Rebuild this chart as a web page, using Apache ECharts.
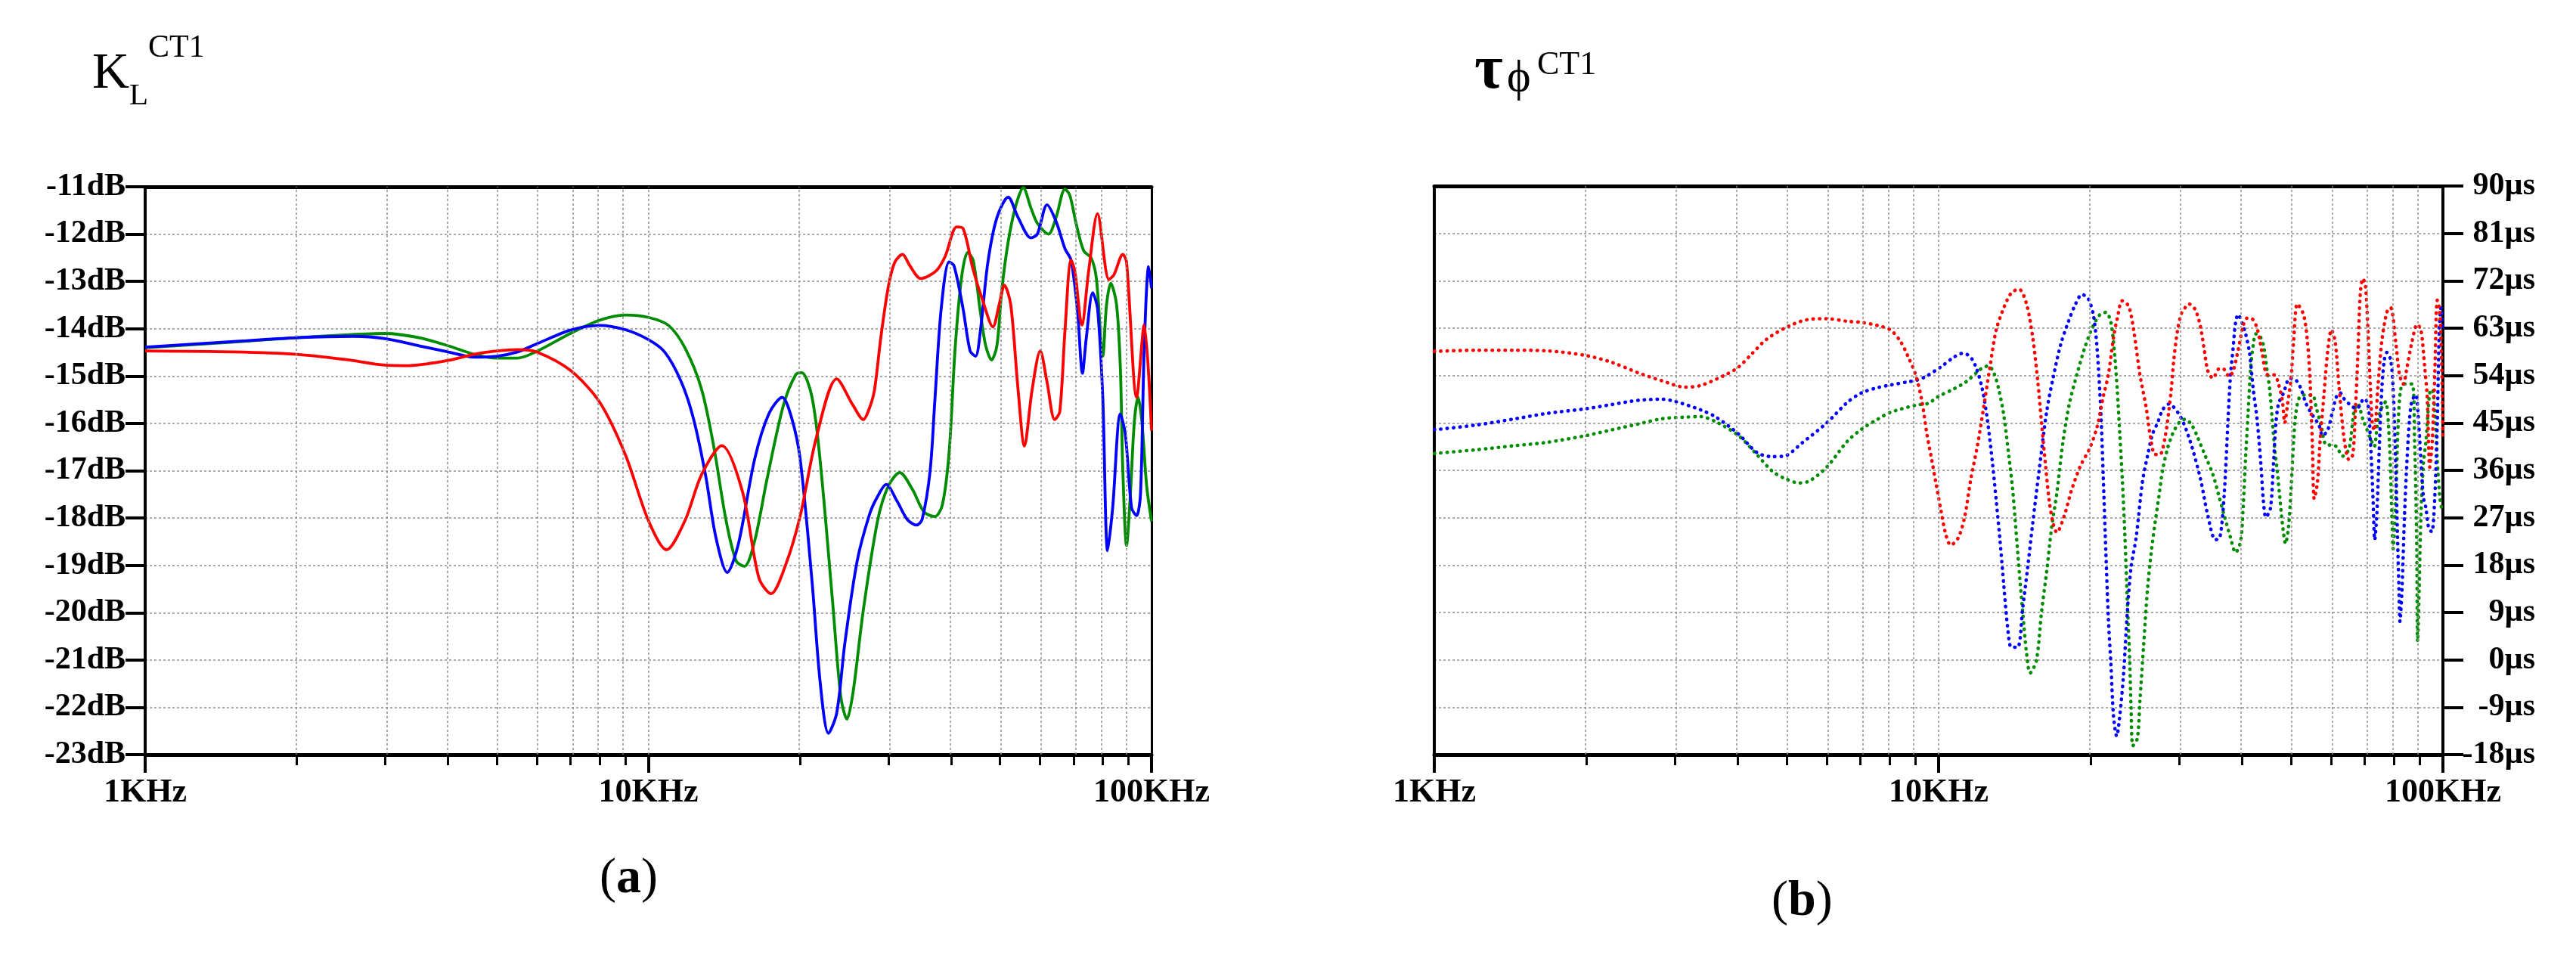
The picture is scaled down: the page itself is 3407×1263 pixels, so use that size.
<!DOCTYPE html>
<html>
<head>
<meta charset="utf-8">
<title>KL CT1 / tau phi CT1</title>
<script src="https://cdn.jsdelivr.net/npm/echarts@6/dist/echarts.min.js"></script>
<style>
  html, body { margin: 0; padding: 0; background: #fff; }
  #chart { width: 3407px; height: 1263px; }
</style>
</head>
<body>
<div id="chart"></div>
<script>
// frequency in kHz
var klGreen = [[1, -14.4], [1.5, -14.28], [2, -14.19], [2.5, -14.13], [3, -14.1], [3.5, -14.19], [4, -14.36], [4.5, -14.54], [5, -14.62], [5.5, -14.62], [6, -14.48], [7, -14.1], [8, -13.82], [9, -13.71], [10, -13.76], [10.97, -13.93], [11.83, -14.41], [12.75, -15.27], [13.49, -16.49], [14.27, -18.05], [14.95, -18.91], [15.52, -19.02], [16.27, -18.48], [17.21, -17.18], [18.55, -15.62], [19.63, -14.97], [20.18, -14.93], [21.15, -15.45], [21.97, -16.83], [23.24, -19.78], [24.12, -21.77], [24.81, -22.25], [25.52, -21.68], [26.74, -19.95], [28.56, -18.05], [30, -17.32], [31.6, -17.04], [33.5, -17.4], [35.3, -17.87], [37.1, -17.97], [38.4, -17.72], [39.6, -16.62], [40.7, -14.43], [41.9, -12.94], [43.1, -12.39], [44.2, -12.55], [45.7, -13.65], [46.8, -14.35], [48.1, -14.66], [49.3, -14.35], [50.4, -13.18], [51.9, -12.16], [53.7, -11.41], [55.6, -11.02], [57.6, -11.45], [59.3, -11.77], [62.4, -12.0], [64.6, -11.65], [67.3, -11.05], [68.8, -11.18], [70.8, -11.77], [73.3, -12.35], [75.9, -12.51], [77.7, -12.94], [80, -14.58], [81.4, -13.49], [83, -13.04], [85.2, -13.49], [86.7, -14.82], [87.7, -17.01], [89.2, -18.58], [90.8, -17.48], [92.4, -15.99], [94, -15.45], [95.6, -15.92], [97.8, -17.32], [100, -18.07]];

var klBlue = [[1, -14.39], [1.5, -14.27], [2, -14.19], [2.6, -14.16], [3, -14.21], [3.5, -14.36], [4, -14.49], [4.5, -14.6], [5, -14.58], [5.5, -14.49], [6, -14.32], [7, -14.03], [8, -13.93], [9, -14.02], [10, -14.23], [10.77, -14.49], [11.6, -15.1], [12.28, -15.88], [12.99, -17.09], [13.61, -18.39], [14.35, -19.15], [15.09, -18.56], [16.27, -16.75], [17.37, -15.79], [18.45, -15.45], [19.26, -15.88], [20.03, -16.75], [21.15, -19.34], [21.97, -21.51], [22.8, -22.55], [23.68, -22.12], [24.58, -20.64], [26, -18.91], [27.5, -17.93], [28.5, -17.56], [29.7, -17.29], [31.2, -17.64], [32.7, -18.03], [34.1, -18.15], [35, -18.03], [36.3, -17.01], [37.1, -15.52], [38.2, -13.57], [39.6, -12.59], [40.5, -12.67], [42.2, -13.57], [43.6, -14.47], [44.7, -14.58], [45.7, -14.04], [47.3, -12.59], [49.3, -11.65], [51.9, -11.22], [54.3, -11.65], [57.6, -12.08], [59.3, -12.0], [62, -11.38], [64.6, -11.73], [67.3, -12.31], [69.2, -12.55], [71.3, -13.65], [72.9, -14.94], [74.2, -14.19], [76.4, -13.24], [78.1, -13.57], [80, -15.45], [81.8, -18.69], [83.7, -17.79], [86.7, -15.8], [88.7, -16.23], [91.3, -17.79], [93.4, -17.95], [95.1, -17.48], [96.7, -14.43], [98.7, -12.69], [100, -13.14]];

var klRed = [[1, -14.47], [1.5, -14.49], [2, -14.54], [2.5, -14.65], [3, -14.77], [3.3, -14.78], [4, -14.67], [4.5, -14.54], [5, -14.47], [5.5, -14.44], [6, -14.49], [7, -14.88], [8, -15.55], [9, -16.66], [10, -18.05], [10.87, -18.67], [11.83, -18.05], [12.75, -17.09], [14, -16.47], [15.38, -17.44], [16.58, -19.26], [17.53, -19.6], [18.73, -19.0], [20.03, -17.96], [21.56, -16.31], [23.68, -15.06], [25.52, -15.62], [26.74, -15.92], [27.5, -15.68], [28.15, -15.29], [28.97, -14.19], [30, -13.1], [30.9, -12.59], [32, -12.43], [33.1, -12.67], [34.8, -12.94], [37.3, -12.78], [38.9, -12.47], [41, -11.85], [42.2, -11.88], [44.2, -12.75], [46.2, -13.41], [48.4, -13.96], [49.8, -13.49], [51, -13.08], [52.5, -13.49], [54.3, -15.29], [55.9, -16.48], [57.9, -15.29], [60.1, -14.47], [62, -15.13], [64.2, -15.92], [65.7, -15.76], [67.3, -14.04], [69.2, -12.55], [70.4, -12.78], [72.7, -13.92], [75, -12.78], [78.1, -11.57], [82.3, -12.96], [84.2, -12.86], [87.7, -12.43], [89.2, -12.59], [93.4, -15.45], [96.7, -13.92], [100, -16.15]];

var tauRed = [[1, 58.6], [1.21, 58.8], [1.45, 58.8], [1.67, 58.7], [2, 57.8], [2.25, 56.5], [2.54, 54.5], [2.83, 53.0], [3.14, 51.8], [3.37, 52.1], [3.79, 54.2], [4.01, 55.6], [4.26, 58.1], [4.56, 60.9], [5, 63.2], [5.48, 64.6], [6, 64.8], [6.59, 64.3], [7.03, 64.1], [7.57, 63.5], [8.02, 62.7], [8.4, 60.5], [8.69, 57.7], [9, 54.2], [9.26, 49.3], [9.48, 42.9], [9.69, 38.0], [9.87, 33.8], [10.09, 28.8], [10.33, 23.9], [10.57, 21.8], [10.94, 23.2], [11.26, 27.1], [11.59, 34.5], [11.93, 40.5], [12.28, 47.9], [12.64, 55.6], [13.01, 62.7], [13.47, 66.9], [13.94, 69.7], [14.43, 70.4], [14.94, 67.6], [15.37, 61.2], [15.73, 52.8], [16, 45.0], [16.28, 37.3], [16.57, 30.2], [16.86, 26.0], [17.15, 24.2], [17.75, 27.4], [18.37, 32.4], [19.12, 36.9], [19.92, 40.1], [20.62, 44.3], [21.21, 50.0], [21.71, 54.2], [22.22, 61.2], [22.6, 64.8], [23.13, 68.2], [23.81, 67.2], [24.36, 62.7], [25.07, 54.2], [25.8, 47.9], [26.25, 42.9], [26.86, 39.0], [27.47, 39.0], [28.11, 42.2], [28.6, 47.2], [28.93, 51.4], [29.27, 57.0], [29.78, 62.7], [30.3, 65.8], [30.82, 66.9], [31.36, 67.6], [32.28, 66.5], [33.03, 63.4], [33.61, 59.1], [34.19, 54.9], [34.99, 53.5], [36.01, 55.3], [36.64, 55.3], [37.7, 53.8], [38.36, 54.8], [39.25, 58.8], [40.16, 63.4], [40.86, 64.9], [41.82, 64.8], [42.8, 63.0], [43.79, 58.4], [44.82, 54.2], [46.39, 54.1], [47.2, 52.4], [48.03, 49.3], [48.58, 45.0], [49.14, 48.2], [49.99, 53.5], [50.57, 60.5], [51.45, 67.6], [52.95, 65.5], [53.87, 60.5], [54.49, 53.5], [55.12, 40.1], [55.57, 30.6], [56.4, 33.8], [57.06, 41.5], [58.05, 50.0], [59.06, 58.4], [60.09, 62.7], [61.13, 60.5], [62.2, 52.1], [63.65, 42.2], [65.14, 38.0], [66.27, 39.0], [67.04, 47.2], [67.81, 57.7], [68.59, 69.7], [69.39, 72.4], [70.19, 71.1], [71.01, 62.7], [71.83, 51.4], [72.41, 45.0], [73.08, 43.6], [74.36, 52.1], [75.65, 60.5], [77.41, 66.0], [78.76, 66.9], [80.59, 60.5], [82, 54.2], [83.43, 52.4], [84.88, 55.6], [86.86, 60.5], [88.89, 63.7], [90.44, 62.7], [92.01, 55.6], [93.07, 50.0], [94.15, 36.6], [95.24, 41.5], [96.34, 54.2], [97.45, 68.3], [98.58, 66.2], [99.72, 51.4], [100, 42.0]];

var tauBlue = [[1, 43.7], [1.21, 44.6], [1.45, 45.8], [1.67, 46.8], [2, 47.7], [2.25, 48.5], [2.54, 49.3], [2.83, 49.5], [3, 49.1], [3.37, 47.5], [3.62, 46.1], [4.01, 42.9], [4.36, 39.4], [4.67, 38.6], [4.94, 38.7], [5.36, 41.2], [6, 45.0], [6.59, 48.9], [7.03, 50.7], [7.57, 51.7], [8.02, 52.2], [8.69, 52.8], [9.03, 53.1], [9.42, 53.8], [10.09, 55.6], [10.69, 57.4], [11.13, 58.2], [11.52, 57.7], [11.86, 55.6], [12.21, 51.4], [12.49, 45.7], [12.79, 37.3], [13.01, 30.2], [13.24, 22.5], [13.47, 14.0], [13.7, 6.3], [13.94, 2.4], [14.35, 2.4], [14.68, 9.8], [15.02, 17.6], [15.37, 26.0], [15.82, 35.9], [16.38, 47.2], [16.86, 53.5], [17.45, 59.8], [18.06, 64.1], [18.69, 67.6], [19.24, 69.4], [19.8, 68.6], [20.27, 65.5], [20.62, 59.1], [20.97, 47.2], [21.21, 34.5], [21.46, 20.4], [21.71, 7.7], [21.96, -0.8], [22.22, -10.6], [22.55, -14.5], [22.87, -10.6], [23.26, -2.9], [23.67, 9.1], [24.08, 17.6], [24.64, 23.2], [25.36, 33.8], [25.95, 38.7], [26.56, 42.9], [27.17, 45.0], [27.81, 47.5], [28.6, 48.6], [30.12, 46.3], [31.54, 41.5], [33.03, 34.5], [34.19, 27.4], [35.39, 22.8], [36.13, 23.3], [36.85, 31.6], [37.49, 45.7], [37.92, 54.2], [38.36, 59.1], [38.8, 64.1], [39.25, 65.6], [39.93, 64.1], [40.63, 61.9], [41.34, 58.4], [42.06, 51.4], [42.8, 45.7], [43.54, 37.3], [44.05, 30.2], [44.56, 27.1], [45.5, 28.8], [46.13, 37.3], [46.66, 45.0], [47.2, 48.6], [48.3, 50.7], [49.71, 53.5], [51.15, 53.1], [52.34, 51.4], [53.56, 48.6], [55.44, 46.1], [56.73, 44.7], [57.72, 42.6], [59.06, 43.6], [60.43, 47.2], [61.49, 50.0], [62.56, 50.7], [63.65, 49.6], [65.89, 48.2], [67.42, 47.7], [69.79, 49.6], [71.01, 48.6], [71.83, 41.5], [72.66, 30.9], [73.25, 22.8], [73.93, 27.4], [74.78, 40.1], [75.65, 51.4], [76.53, 57.0], [77.41, 58.4], [78.76, 57.0], [79.67, 51.4], [80.59, 37.3], [81.25, 23.9], [81.81, 13.3], [82.19, 7.3], [82.95, 13.3], [83.91, 27.4], [84.88, 38.0], [85.87, 45.7], [86.86, 49.3], [88.38, 50.3], [89.41, 45.7], [90.44, 38.0], [91.48, 30.9], [92.54, 28.8], [93.61, 25.3], [95.02, 24.3], [96.34, 30.9], [97.45, 45.0], [98.35, 62.7], [99.15, 66.9], [100, 63.0]];

var tauGreen = [[1, 39.2], [1.21, 39.9], [1.45, 40.7], [1.67, 41.3], [2, 42.6], [2.25, 43.7], [2.54, 44.8], [2.83, 45.8], [3.14, 46.1], [3.37, 46.2], [3.62, 45.2], [4.01, 42.6], [4.36, 39.0], [4.67, 35.9], [4.94, 34.5], [5.3, 33.6], [5.55, 34.0], [6, 36.6], [6.59, 41.5], [7.03, 43.8], [7.57, 45.7], [8.02, 47.0], [9.03, 48.4], [9.53, 48.7], [9.98, 50.0], [10.69, 51.4], [11.33, 52.8], [12, 54.9], [12.28, 55.6], [12.57, 55.8], [12.86, 54.6], [13.16, 51.4], [13.47, 46.4], [13.78, 38.7], [14.02, 32.4], [14.18, 26.7], [14.35, 20.4], [14.51, 14.7], [14.68, 9.1], [14.94, 1.3], [15.19, -2.5], [15.63, -0.1], [16, 9.1], [16.38, 16.8], [16.76, 25.3], [17.15, 31.6], [17.65, 41.5], [18.16, 48.6], [18.8, 54.2], [19.46, 59.1], [20.15, 63.0], [20.85, 65.5], [21.46, 66.0], [21.96, 64.1], [22.35, 57.7], [22.6, 51.4], [22.87, 42.9], [23.13, 34.5], [23.4, 23.9], [23.67, 11.2], [23.94, -0.8], [24.08, -9.2], [24.28, -16.3], [24.78, -14.9], [25.07, -7.8], [25.5, 2.8], [25.95, 13.3], [26.4, 20.4], [26.86, 26.0], [27.33, 30.9], [27.79, 35.9], [28.43, 40.1], [29.1, 42.9], [29.95, 45.0], [30.82, 45.7], [31.72, 44.7], [32.65, 42.2], [33.8, 38.7], [34.99, 35.2], [36.01, 30.9], [36.85, 27.4], [37.92, 23.2], [38.8, 20.4], [39.7, 22.5], [40.16, 28.8], [40.63, 38.7], [41.1, 47.2], [41.58, 55.6], [42.06, 59.8], [42.55, 61.9], [43.29, 61.6], [44.05, 59.8], [44.82, 54.9], [45.34, 51.4], [45.86, 45.7], [46.39, 40.1], [46.93, 35.9], [47.48, 30.9], [48.03, 26.0], [48.75, 22.1], [49.42, 25.3], [49.99, 32.4], [50.57, 41.5], [51.15, 47.2], [52.04, 50.0], [53.56, 50.3], [55.12, 50.3], [56.08, 47.9], [57.39, 44.3], [58.72, 40.8], [60.09, 40.8], [61.49, 40.5], [63.28, 38.7], [65.14, 40.1], [66.65, 47.2], [67.81, 48.6], [69.39, 45.7], [72.24, 41.5], [73.08, 40.5], [74.36, 45.7], [75.65, 47.9], [76.97, 49.0], [78.31, 41.5], [79.21, 27.4], [79.67, 21.1], [80.59, 30.2], [81.53, 45.0], [82.48, 51.4], [83.91, 52.4], [86.86, 52.4], [87.87, 41.5], [88.68, 23.9], [89.1, 3.5], [89.71, 13.3], [90.44, 27.4], [91.48, 37.3], [92.54, 41.5], [94.15, 50.7], [95.24, 51.4], [96.34, 47.2], [97.45, 38.0], [98.58, 30.9], [99.72, 28.1]];

// axis settings
var gridFreqs = [2, 3, 4, 5, 6, 7, 8, 9, 10, 20, 30, 40, 50, 60, 70, 80, 90];
var minorFreqs = [2, 3, 4, 5, 6, 7, 8, 9, 20, 30, 40, 50, 60, 70, 80, 90];
var freqLabels = ['1KHz', '10KHz', '100KHz'];

var FONT = '"Liberation Serif", "Times New Roman", serif';
var RED = '#ff0000', GREEN = '#008c00', BLUE = '#0000ff';
var GRID_LINE = { color: '#8f8f8f', type: [3, 3], width: 1.5 };

function toLog(arr) {
	return arr.map(function (p) { return [Math.log10(p[0]), p[1]]; });
}

function mainX(g) {
	return {
		type: 'value', gridIndex: g, min: 0, max: 2, interval: 1, position: 'bottom',
		axisLine: { onZero: false, lineStyle: { color: '#000', width: 5 } },
		axisTick: { length: 24, lineStyle: { color: '#000', width: 4 } },
		axisLabel: {
			margin: 29, color: '#000', fontFamily: FONT, fontWeight: 'bold', fontSize: 44,
			formatter: function (v) { return freqLabels[Math.round(v)]; }
		},
		splitLine: { show: false }
	};
}
function minorX(g) {
	return {
		type: 'value', gridIndex: g, min: 0, max: 2, position: 'bottom',
		axisLine: { show: false, onZero: false },
		axisLabel: { show: false },
		axisTick: { show: true, length: 14, customValues: minorFreqs.map(function (f) { return Math.log10(f); }),
			lineStyle: { color: '#000', width: 3 } },
		splitLine: { show: false }
	};
}
function topX(g) {
	return {
		type: 'value', gridIndex: g, min: 0, max: 2, position: 'top',
		axisLine: { onZero: false, lineStyle: { color: '#000', width: 5 } },
		axisTick: { show: false }, axisLabel: { show: false }, splitLine: { show: false }
	};
}
function borderY(g, pos, lo, hi, w) {
	return {
		type: 'value', gridIndex: g, min: lo, max: hi, position: pos,
		axisLine: { onZero: false, lineStyle: { color: '#000', width: w } },
		axisTick: { show: false }, axisLabel: { show: false }, splitLine: { show: false }
	};
}

function gridSeries(xi, yi) {
	return {
		type: 'line', xAxisIndex: xi, yAxisIndex: yi, data: [], silent: true,
		markLine: {
			silent: true, animation: false, symbol: ['none', 'none'],
			label: { show: false }, lineStyle: GRID_LINE,
			emphasis: { disabled: true },
			data: gridFreqs.map(function (f) { return { xAxis: Math.log10(f) }; })
		}
	};
}
function solid(arr, color) {
	return {
		type: 'line', xAxisIndex: 0, yAxisIndex: 0, data: toLog(arr), showSymbol: false,
		smooth: 0.3, silent: true, itemStyle: { color: color },
		lineStyle: { color: color, width: 3.8 }
	};
}
function dotted(arr, color) {
	return {
		type: 'line', xAxisIndex: 3, yAxisIndex: 2, data: toLog(arr), showSymbol: false,
		smooth: 0.3, silent: true, itemStyle: { color: color },
		lineStyle: { color: color, width: 4.6, type: [0.5, 8], cap: 'round' }
	};
}

function txt(text, left, top, size, extra, weight) {
	var t = { text: text, left: left, top: top, padding: 0,
		textStyle: { fontFamily: FONT, fontSize: size, fontWeight: weight || 'normal', color: '#000' } };
	if (extra) { t.textStyle.rich = extra; }
	return t;
}

var capRich = {
	p: { fontFamily: FONT, fontSize: 66, color: '#000' },
	b: { fontFamily: FONT, fontSize: 66, fontWeight: 'bold', color: '#000' }
};

var option = {
	animation: false,
	backgroundColor: '#fff',
	title: [
		txt('K', 122, 64, 68),
		txt('L', 171, 107, 41),
		txt('CT1', 196, 43, 42),
		txt('τ', 1950, 54, 82, null, 'bold'),
		txt('ϕ', 1993, 74, 60),
		txt('CT1', 2033, 64, 44),
		txt('{p|(}{b|a}{p|)}', 793, 1130, 66, capRich),
		txt('{p|(}{b|b}{p|)}', 2343, 1160, 66, capRich)
	],
	grid: [
		{ left: 192, top: 247, width: 1331, height: 751 },
		{ left: 1897, top: 246, width: 1334, height: 752 }
	],
	xAxis: [mainX(0), minorX(0), topX(0), mainX(1), minorX(1), topX(1)],
	yAxis: [
		{
			type: 'value', gridIndex: 0, min: -23, max: -11, interval: 1, position: 'left',
			axisLine: { onZero: false, lineStyle: { color: '#000', width: 4 } },
			axisTick: { length: 26, lineStyle: { color: '#000', width: 4 } },
			axisLabel: { margin: 26, color: '#000', fontFamily: FONT, fontWeight: 'bold', fontSize: 42,
				formatter: function (v) { return v + 'dB'; } },
			splitLine: { show: true, lineStyle: GRID_LINE }
		},
		borderY(0, 'right', -23, -11, 3),
		{
			type: 'value', gridIndex: 1, min: -18, max: 90, interval: 9, position: 'right',
			axisLine: { onZero: false, lineStyle: { color: '#000', width: 4 } },
			axisTick: { length: 27, lineStyle: { color: '#000', width: 4 } },
			axisLabel: { margin: 122, align: 'right', color: '#000', fontFamily: FONT, fontWeight: 'bold', fontSize: 42,
				formatter: function (v) { return v + 'µs'; } },
			splitLine: { show: true, lineStyle: GRID_LINE }
		},
		borderY(1, 'left', -18, 90, 4)
	],
	series: [
		gridSeries(0, 0),
		gridSeries(3, 2),
		solid(klGreen, GREEN),
		solid(klBlue, BLUE),
		solid(klRed, RED),
		dotted(tauGreen, GREEN),
		dotted(tauBlue, BLUE),
		dotted(tauRed, RED)
	]
};

var myChart = echarts.init(document.getElementById('chart'), null, { renderer: 'canvas' });
myChart.setOption(option);
</script>
</body>
</html>
